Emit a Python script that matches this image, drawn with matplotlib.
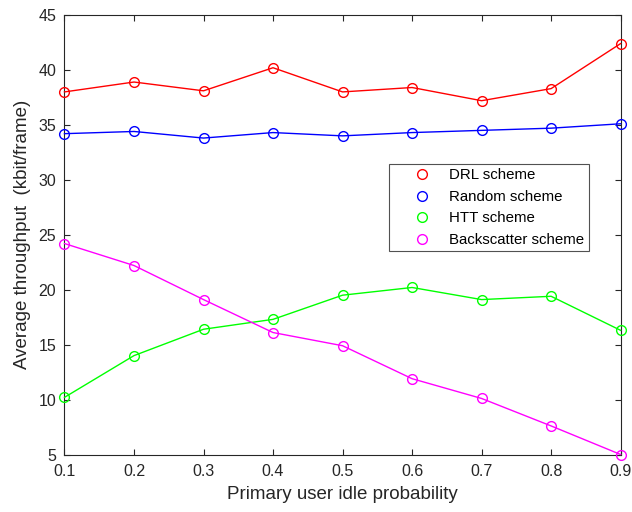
import matplotlib
matplotlib.use('Agg')
import matplotlib.pyplot as plt
from matplotlib.lines import Line2D

plt.rcParams['font.family'] = ['Liberation Sans', 'DejaVu Sans']

prob = [0.1, 0.2, 0.3, 0.4, 0.5, 0.6, 0.7, 0.8, 0.9]
drl = [38.0, 38.9, 38.1, 40.2, 38.0, 38.4, 37.2, 38.3, 42.4]
rand_s = [34.2, 34.4, 33.8, 34.3, 34.0, 34.3, 34.5, 34.7, 35.1]
htt = [10.2, 14.0, 16.4, 17.3, 19.5, 20.2, 19.1, 19.4, 16.3]
backscatter = [24.2, 22.2, 19.1, 16.1, 14.9, 11.9, 10.1, 7.6, 5.0]

names = ['DRL scheme', 'Random scheme', 'HTT scheme', 'Backscatter scheme']
colors = ['#ff0000', '#0000ff', '#00ff00', '#ff00ff']
series = [drl, rand_s, htt, backscatter]

fig = plt.figure(figsize=(6.32, 5.12), dpi=100)
ax = fig.add_axes([0.102, 0.1123, 0.88, 0.8584])

for ys, c in zip(series, colors):
    ax.plot(prob, ys, '-o', color=c, lw=1, ms=7, mfc='none', mew=1, clip_on=False, zorder=3)

ax.set_xlim(0.1, 0.9)
ax.set_ylim(5, 45)
ax.set_xticks(prob)
ax.set_yticks(range(5, 46, 5))
ax.tick_params(direction='in', top=True, right=True, labelsize=11.5, colors='#262626', length=4)
ax.tick_params(axis='x', pad=7)
ax.tick_params(axis='y', pad=6)
for s in ax.spines.values():
    s.set_color('#262626')
    s.set_linewidth(0.8)

ax.set_xlabel('Primary user idle probability', fontsize=13.5, color='#262626', labelpad=5)
ax.set_ylabel('Average throughput  (kbit/frame)', fontsize=13.5, color='#262626', labelpad=5)

handles = [Line2D([], [], ls='none', marker='o', color=c, mfc='none', ms=7) for c in colors]
leg = ax.legend(handles, names, loc='upper left', bbox_to_anchor=(0.584, 0.661),
                fontsize=10.8, frameon=True, fancybox=False, edgecolor='#262626',
                borderaxespad=0, labelspacing=0.5, handlelength=3.7, handletextpad=0.0,
                borderpad=0.3)
leg.get_frame().set_linewidth(0.8)

fig.savefig('out.png', dpi=100)
